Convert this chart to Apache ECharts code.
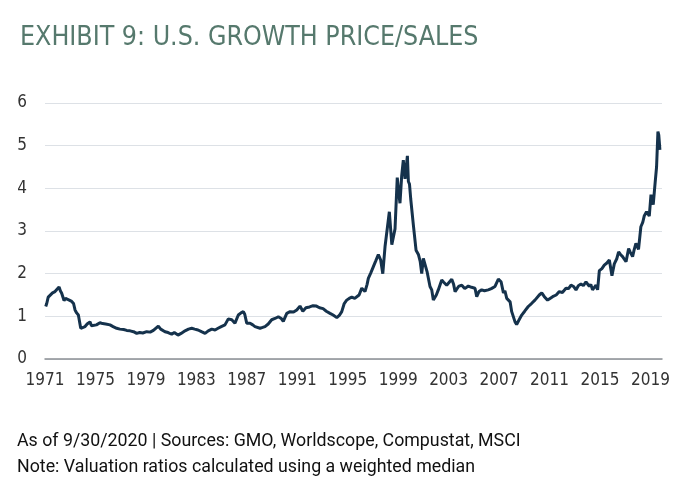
<!DOCTYPE html>
<html>
<head>
<meta charset="utf-8">
<script src="https://cdn.jsdelivr.net/npm/echarts@6/dist/echarts.min.js"></script>
<style>
html,body{margin:0;padding:0;background:#fff;}
#chart{width:690px;height:490px;}
</style>
</head>
<body>
<div id="chart"></div>
<script>
// Data (fractional year, price/sales)
var years = [
1971.00,1971.08,1971.20,1971.35,1971.55,1971.75,1971.90,1972.08,1972.18,1972.29,1972.48,1972.60,1972.72,1972.90,
1973.10,1973.25,1973.37,1973.50,1973.64,1973.83,1973.95,1974.18,1974.35,1974.58,1974.70,1974.85,1975.10,1975.39,
1975.60,1975.85,1976.20,1976.45,1976.74,1977.00,1977.30,1977.55,1977.82,1978.10,1978.36,1978.60,1978.85,1979.17,
1979.45,1979.71,1980.11,1980.30,1980.45,1980.65,1980.90,1981.19,1981.40,1981.70,1981.95,1982.27,1982.55,1982.81,
1983.05,1983.32,1983.60,1983.89,1984.15,1984.43,1984.70,1984.94,1985.20,1985.50,1985.77,1986.05,1986.31,1986.58,
1986.80,1986.99,1987.10,1987.26,1987.53,1987.75,1987.93,1988.07,1988.34,1988.55,1988.74,1989.00,1989.28,1989.55,
1989.82,1990.05,1990.22,1990.50,1990.77,1991.05,1991.31,1991.57,1991.80,1992.05,1992.35,1992.63,1992.90,1993.15,
1993.44,1993.70,1994.00,1994.25,1994.55,1994.75,1994.95,1995.15,1995.35,1995.55,1995.76,1996.00,1996.16,1996.35,
1996.57,1996.83,1997.00,1997.10,1997.30,1997.50,1997.70,1997.91,1998.10,1998.27,1998.45,1998.65,1998.80,1999.00,
1999.26,1999.44,1999.56,1999.66,1999.80,1999.93,2000.07,2000.17,2000.26,2000.34,2000.43,2000.53,2000.74,2000.96,
2001.15,2001.30,2001.42,2001.55,2001.69,2001.85,2002.09,2002.23,2002.36,2002.50,2002.60,2002.76,2002.90,2003.04,
2003.20,2003.44,2003.60,2003.85,2004.00,2004.12,2004.40,2004.66,2004.90,2005.19,2005.45,2005.73,2005.87,2006.05,
2006.27,2006.50,2006.80,2007.05,2007.35,2007.62,2007.84,2008.03,2008.15,2008.30,2008.57,2008.70,2008.97,2009.10,
2009.30,2009.51,2009.75,2010.04,2010.30,2010.58,2010.93,2011.13,2011.34,2011.60,2011.80,2012.01,2012.30,2012.55,
2012.80,2013.09,2013.30,2013.50,2013.70,2013.90,2014.10,2014.30,2014.50,2014.71,2014.98,2015.10,2015.24,2015.52,
2015.65,2015.79,2016.00,2016.19,2016.40,2016.60,2016.81,2017.00,2017.20,2017.35,2017.50,2017.67,2017.95,2018.16,
2018.30,2018.48,2018.60,2018.75,2018.96,2019.15,2019.30,2019.42,2019.61,2019.83,2019.97,2020.15,2020.31,2020.42,
2020.53,2020.60,2020.69
];
var priceSales = [
1.23,1.30,1.45,1.43,1.55,1.58,1.62,1.69,1.60,1.54,1.37,1.42,1.40,1.38,
1.35,1.30,1.15,1.08,1.03,0.72,0.74,0.76,0.82,0.87,0.78,0.76,0.80,0.85,
0.83,0.82,0.80,0.76,0.72,0.70,0.69,0.67,0.66,0.64,0.60,0.62,0.61,0.64,
0.63,0.67,0.77,0.70,0.68,0.64,0.62,0.58,0.62,0.56,0.60,0.66,0.70,0.72,
0.70,0.68,0.64,0.60,0.66,0.70,0.68,0.72,0.76,0.80,0.94,0.92,0.84,1.03,
1.08,1.11,1.05,0.84,0.84,0.80,0.76,0.72,0.72,0.74,0.76,0.82,0.92,0.95,
0.99,0.95,0.88,1.07,1.11,1.10,1.15,1.24,1.12,1.20,1.22,1.25,1.24,1.20,
1.18,1.12,1.07,1.03,0.97,1.02,1.11,1.30,1.38,1.42,1.45,1.42,1.38,1.50,
1.66,1.58,1.75,1.89,2.02,2.16,2.30,2.45,2.32,2.00,2.63,3.10,3.45,2.68,
3.05,4.25,3.90,3.65,4.30,4.66,4.22,4.50,4.76,4.16,4.10,3.75,3.15,2.55,
2.45,2.28,2.00,2.36,2.32,2.05,1.70,1.62,1.38,1.34,1.50,1.62,1.58,1.85,
1.80,1.73,1.72,1.87,1.75,1.58,1.70,1.73,1.65,1.71,1.68,1.66,1.46,1.58,
1.62,1.60,1.62,1.65,1.70,1.87,1.81,1.55,1.60,1.42,1.34,1.11,0.87,0.81,
0.92,1.03,1.12,1.23,1.30,1.38,1.50,1.55,1.46,1.38,1.42,1.46,1.50,1.58,
1.56,1.66,1.65,1.73,1.70,1.62,1.72,1.76,1.72,1.81,1.70,1.75,1.62,1.73,
1.62,2.07,2.12,2.20,2.25,2.32,1.95,2.23,2.35,2.51,2.45,2.40,2.28,2.59,
2.50,2.40,2.55,2.71,2.57,3.10,3.20,3.35,3.45,3.35,3.85,3.62,4.15,4.50,
5.33,5.25,4.90
];
var tickYears = ['1971','1975','1979','1983','1987','1991','1995','1999','2003','2007','2011','2015','2019'];
var yTicks = [0,1,2,3,4,5,6];

var seriesData = years.map(function(y,i){return [y, priceSales[i]];});
var narrow = "'Liberation Sans Narrow','DejaVu Sans Condensed',sans-serif";

var chart = echarts.init(document.getElementById('chart'), null, {renderer:'canvas'});
chart.setOption({
  backgroundColor:'#ffffff',
  animation:false,
  title:[
    {text:'EXHIBIT 9: U.S. GROWTH PRICE/SALES', left:15, top:20,
     textStyle:{fontFamily:narrow, fontSize:26.5, fontWeight:'normal', color:'#56796d'}},
    {text:'As of 9/30/2020 | Sources: GMO, Worldscope, Compustat, MSCI', left:12, top:428,
     textStyle:{fontFamily:'Roboto', fontSize:17.8, fontWeight:'normal', color:'#111'}},
    {text:'Note: Valuation ratios calculated using a weighted median', left:12, top:454,
     textStyle:{fontFamily:'Roboto', fontSize:17.8, fontWeight:'normal', color:'#111'}}
  ],
  grid:{left:45, right:28, top:103, bottom:131, containLabel:false},
  xAxis:[
    {type:'value', min:1970.94, max:2020.86, show:false},
    {type:'value', min:0, max:12.23, interval:1, position:'bottom',
     axisLine:{show:true, lineStyle:{color:'#8a8f94', width:1.5}},
     axisTick:{show:false}, splitLine:{show:false},
     axisLabel:{showMaxLabel:false, margin:13, fontFamily:narrow, fontSize:17, color:'#333',
       formatter:function(v){ return tickYears[Math.round(v)] || ''; }}}
  ],
  yAxis:{type:'value', min:yTicks[0], max:yTicks[yTicks.length-1], interval:1,
    axisLine:{show:false}, axisTick:{show:false},
    splitLine:{lineStyle:{color:'#dde1e6', width:1.2}},
    axisLabel:{margin:18, fontFamily:narrow, fontSize:17, color:'#333'}},
  series:[{type:'line', xAxisIndex:0, data:seriesData, showSymbol:false, symbol:'none',
    lineStyle:{color:'#15324c', width:3}, z:3}]
});
</script>
</body>
</html>
